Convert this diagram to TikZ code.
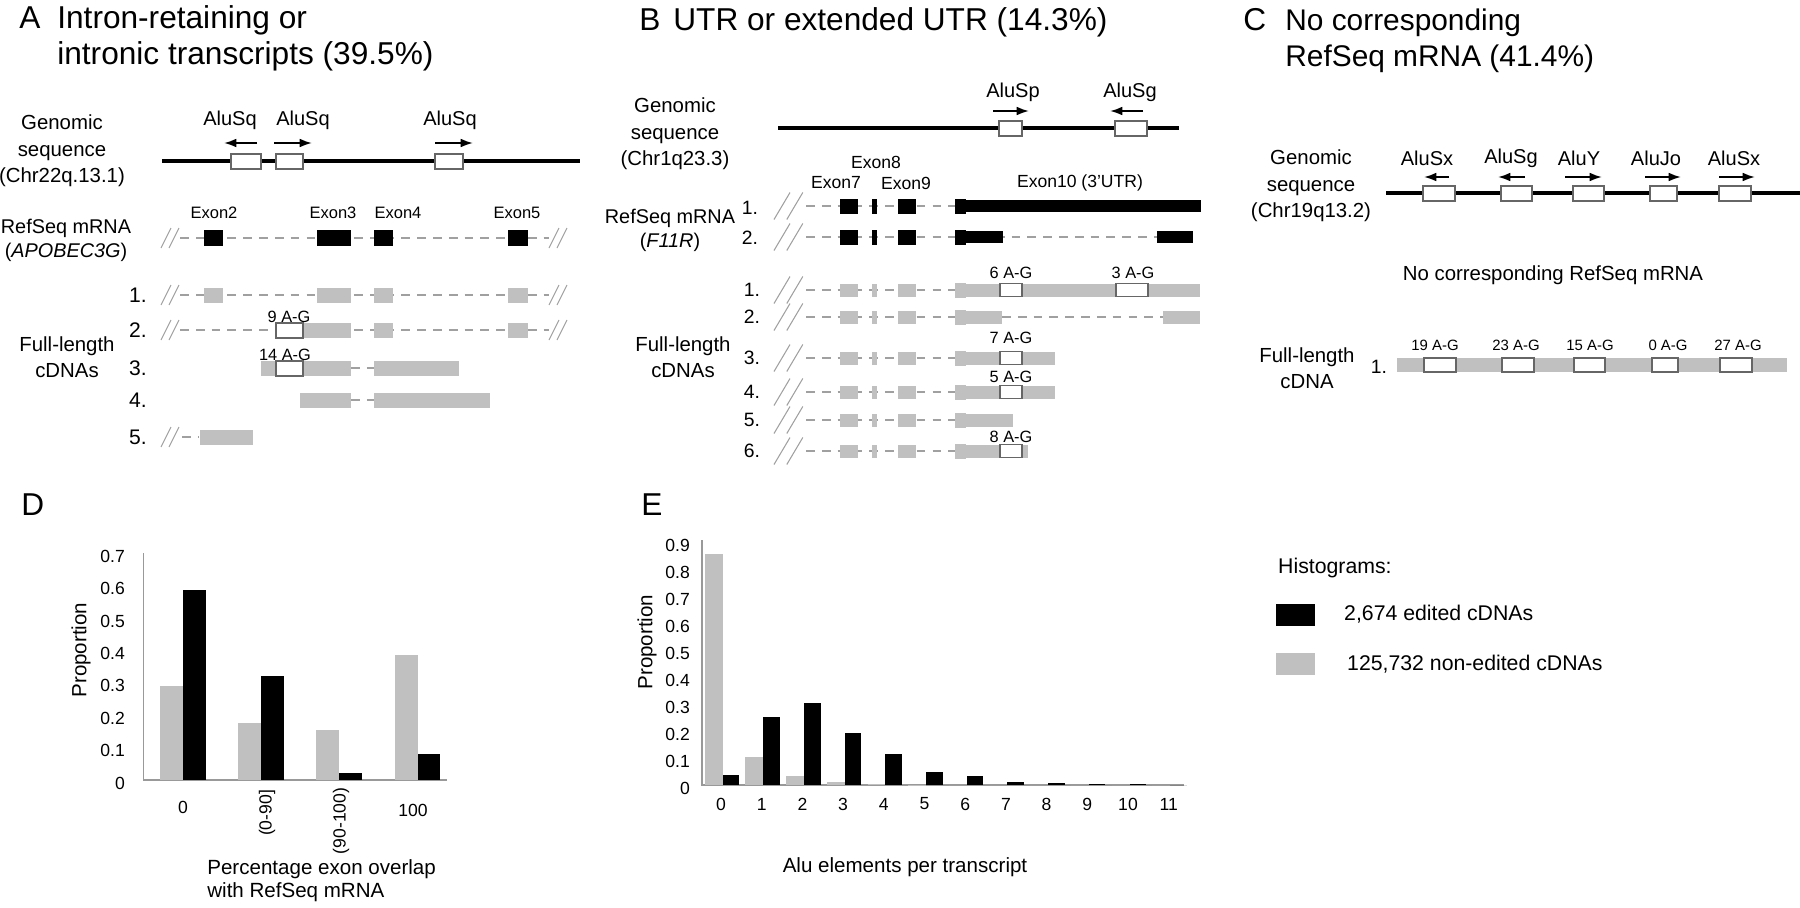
\documentclass[tikz,border=0pt]{standalone}
\usepackage{fontspec}
\setmainfont{Liberation Sans}
\usetikzlibrary{arrows.meta}
\definecolor{bargray}{RGB}{192,192,192}
\definecolor{dashgray}{RGB}{160,160,160}
% double slash: x, y, half height, dx
\newcommand{\slashmark}[4]{\draw[cut] (#1,#2+#3) -- ++(#4,-2*#3) (#1+0.8*#4,#2+#3) -- ++(#4,-2*#3);}

\begin{document}
\begin{tikzpicture}[x=0.02cm, y=-0.02cm,
  ttl/.style={font=\fontsize{18}{21}\selectfont, anchor=base west, inner sep=0pt},
  lbl/.style={font=\fontsize{11.6}{15}\selectfont, align=center},
  reflbl/.style={font=\fontsize{11.3}{13.6}\selectfont, align=center},
  alulbl/.style={font=\fontsize{11.4}{13}\selectfont},
  exlbl/.style={font=\fontsize{9.4}{10}\selectfont},
  aglbl/.style={font=\fontsize{9.3}{10}\selectfont},
  rowlbl/.style={font=\fontsize{11}{13}\selectfont},
  genome/.style={line width=1.8pt},
  alu/.style={draw=black!60, fill=white, line width=0.8pt},
  aluarr/.style={-{Latex[length=7pt,width=5pt]}, line width=1.1pt},
  intron/.style={draw=dashgray, dash pattern=on 5pt off 4pt, line width=0.8pt},
  cut/.style={draw=dashgray, line width=0.6pt},
  tick/.style={font=\fontsize{10}{11}\selectfont, anchor=east},
  cat/.style={font=\fontsize{10}{11}\selectfont},
  axt/.style={font=\fontsize{11.7}{13}\selectfont},
  leg/.style={font=\fontsize{12.1}{14}\selectfont, anchor=west},
  axis/.style={draw=black!40, line width=0.6pt}]
\useasboundingbox (0,0) rectangle (1800,907);

% ---------------- A
\node[ttl] (lA) at (19,28) {A};
\node[ttl] (tA1) at (57,28) {Intron-retaining or};
\node[ttl] (tA2) at (57,64) {intronic transcripts (39.5\%)};
\node[lbl] (gA) at (62,151) {Genomic\\sequence\\(Chr22q.13.1)};
\draw[genome] (162,161) -- (580,161);
\foreach \a/\b in {231/261,276/303,435/463} \draw[alu] (\a,154) rectangle (\b,169);
\draw[aluarr] (257,143) -- (224,143);
\draw[aluarr] (274,143) -- (312,143);
\draw[aluarr] (435,143) -- (473,143);
\foreach \x [count=\i] in {230,303,450} \node[alulbl] (aA\i) at (\x,120) {AluSq};
\foreach \x/\t in {214/Exon2,333/Exon3,398/Exon4,517/Exon5} \node[exlbl] (x\t) at (\x,213) {\t};
\node[reflbl] (rA) at (66,240) {RefSeq mRNA\\(\textit{APOBEC3G})};
\draw[intron] (180,238) -- (549,238);
\slashmark{161}{238}{10}{10}
\slashmark{549}{238}{10}{10}
\foreach \a/\b in {204/223,317/351,374/393,508/528} \fill (\a,230) rectangle (\b,246);

\node[lbl] (fA) at (67,357) {Full-length\\cDNAs};
\foreach \i/\y in {1/295,2/330,3/368,4/400,5/437} \node[font=\fontsize{12}{14}\selectfont] (nA\i) at (138,\y) {\i.};
% 1
\draw[intron] (180,295) -- (549,295);
\slashmark{161}{295}{10}{10}
\slashmark{549}{295}{10}{10}
\foreach \a/\b in {204/223,317/351,374/393,508/528} \fill[bargray] (\a,288) rectangle (\b,303);
% 2
\draw[intron] (180,330) -- (549,330);
\slashmark{161}{330}{10}{10}
\slashmark{549}{330}{10}{10}
\foreach \a/\b in {303/351,374/393,508/528} \fill[bargray] (\a,323) rectangle (\b,338);
\draw[alu] (276,323) rectangle (303,338);
\node[aglbl] (agA2) at (289,317) {9 A-G};
% 3
\draw[intron] (351,368) -- (374,368);
\foreach \a/\b in {261/351,374/459} \fill[bargray] (\a,361) rectangle (\b,376);
\draw[alu] (276,361) rectangle (303,376);
\node[aglbl] (agA3) at (285,355) {14 A-G};
% 4
\draw[intron] (351,400) -- (374,400);
\foreach \a/\b in {300/351,374/490} \fill[bargray] (\a,393) rectangle (\b,408);
% 5
\slashmark{161}{437}{10}{10}
\draw[intron] (182,437) -- (198,437);
\fill[bargray] (200,430) rectangle (253,445);

% ---------------- B
\node[ttl] (lB) at (639,30) {B};
\node[ttl] (tB) at (673,30) {UTR or extended UTR (14.3\%)};
\node[lbl] (gB) at (675,134) {Genomic\\sequence\\(Chr1q23.3)};
\draw[genome] (778,128) -- (1179,128);
\draw[alu] (999,121) rectangle (1022,136);
\draw[alu] (1115,121) rectangle (1147,136);
\draw[aluarr] (993,111) -- (1029,111);
\draw[aluarr] (1143,111) -- (1110,111);
\node[alulbl] (aB1) at (1013,92) {AluSp};
\node[alulbl] (aB2) at (1130,92) {AluSg};
\node[font=\fontsize{10}{11}\selectfont] (xE8) at (876,162) {Exon8};
\node[font=\fontsize{10}{11}\selectfont] (xE7) at (836,183) {Exon7};
\node[font=\fontsize{10}{11}\selectfont] (xE9) at (906,183) {Exon9};
\node[font=\fontsize{10}{11}\selectfont] (xE10) at (1080,183) {Exon10 (3'UTR)};
\node[reflbl] (rB) at (670,230) {RefSeq mRNA\\(\textit{F11R})};
\node[rowlbl] (nR1) at (750,208) {1.};
\node[rowlbl] (nR2) at (750,238) {2.};
\draw[intron] (806,206) -- (955,206);
\draw[intron] (806,237) -- (1157,237);
\foreach \y in {206,237} {
  \slashmark{774}{\y}{13.5}{16}
  \foreach \a/\b in {840/858,872/877,898/916,955/966} \fill (\a,\y-7.5) rectangle (\b,\y+7.5);
}
\fill (966,200) rectangle (1201,212);
\fill (966,231) rectangle (1003,243);
\fill (1157,231) rectangle (1193,243);

\node[lbl] (fB) at (683,357) {Full-length\\cDNAs};
\foreach \y/\e [count=\i] in {290/1200,317/1002,358/1055,392/1055,420/1013,451/1028} {
  \node[rowlbl] (nB\i) at (752,\y) {\i.};
  \slashmark{774}{\y}{13.5}{16}
  \draw[intron] (806,\y) -- (955,\y);
  \foreach \a/\b in {840/858,872/877,898/916} \fill[bargray] (\a,\y-6.5) rectangle (\b,\y+6.5);
  \fill[bargray] (955,\y-7.5) rectangle (966,\y+7.5);
  \fill[bargray] (966,\y-6.5) rectangle (\e,\y+6.5);
}
\draw[intron] (1002,317) -- (1163,317);
\fill[bargray] (1163,310.5) rectangle (1200,323.5);
\foreach \y in {290,358,392,451} \draw[alu] (1000,\y-6.5) rectangle (1022,\y+6.5);
\draw[alu] (1116,283.5) rectangle (1148,296.5);
\node[aglbl] (agB1) at (1011,273) {6 A-G};
\node[aglbl] (agB1b) at (1133,273) {3 A-G};
\node[aglbl] (agB3) at (1011,338) {7 A-G};
\node[aglbl] (agB4) at (1011,377) {5 A-G};
\node[aglbl] (agB6) at (1011,437) {8 A-G};

% ---------------- C
\node[ttl] (lC) at (1243,30) {C};
\node[ttl, font=\fontsize{17}{21}\selectfont] (tC1) at (1285,30) {No corresponding};
\node[ttl, font=\fontsize{17}{21}\selectfont] (tC2) at (1285,66) {RefSeq mRNA (41.4\%)};
\node[lbl] (gC) at (1311,186) {Genomic\\sequence\\(Chr19q13.2)};
\draw[genome] (1386,193) -- (1800,193);
\foreach \a/\b in {1423/1455,1501/1532,1573/1604,1650/1677,1719/1751} \draw[alu] (\a,186) rectangle (\b,201);
\draw[aluarr] (1449,177) -- (1424,177);
\draw[aluarr] (1525,177) -- (1498,177);
\draw[aluarr] (1565,177) -- (1602,177);
\draw[aluarr] (1645,177) -- (1681,177);
\draw[aluarr] (1719,177) -- (1755,177);
\foreach \x/\t [count=\i] in {1427/AluSx,1511/AluSg,1579/AluY,1656/AluJo,1734/AluSx} \node[alulbl] (aC\i) at (\x,158) {\t};
\node[lbl] (noC) at (1553,275) {No corresponding RefSeq mRNA};
\node[lbl] (fC) at (1307,368) {Full-length\\cDNA};
\node[rowlbl] (nC1) at (1379,367) {1.};
\fill[bargray] (1397,358) rectangle (1787,372);
\foreach \a/\b in {1424/1456,1502/1534,1574/1605,1652/1678,1720/1752} \draw[alu] (\a,358) rectangle (\b,372);
\foreach \x/\t [count=\i] in {1435/19,1516/23,1590/15,1668/0,1738/27} \node[font=\fontsize{8.5}{10}\selectfont] (agC\i) at (\x,345) {\t\ A-G};

% ---------------- D
\node[ttl] (lD) at (21,515) {D};
\draw[axis] (143.5,553) -- (143.5,780) -- (447,780);
\foreach \v/\t in {0/0,1/0.1,2/0.2,3/0.3,4/0.4,5/0.5,6/0.6,7/0.7} \node[tick] (tD\v) at (131,780-32.4*\v+3) {\t};
\foreach \c/\g/\b in {183/0.29/0.585,261/0.175/0.32,339/0.155/0.022,417.5/0.385/0.08} {
  \fill[bargray] (\c-22.6,780) rectangle (\c,780-324*\g);
  \fill (\c,780) rectangle (\c+22.6,780-324*\b);
}
\node[cat] (cD1) at (183,807) {0};
\node[cat, rotate=90] (cD2) at (267,813) {(0-90]};
\node[cat, rotate=90] (cD3) at (341,821) {(90-100)};
\node[cat] (cD4) at (413,810) {100};
\node[axt, rotate=90] (pD) at (81,650) {Proportion};
\node[axt, align=left, anchor=west, inner sep=0pt] (xD) at (207,881) {Percentage exon overlap\\with RefSeq mRNA};

% ---------------- E
\node[ttl] (lE) at (641,515) {E};
\draw[axis] (702,540) -- (702,785) -- (1184,785);
\foreach \v/\t in {0/0,1/0.1,2/0.2,3/0.3,4/0.4,5/0.5,6/0.6,7/0.7,8/0.8,9/0.9} \node[tick] (tE\v) at (696,785-26.9*\v+3) {\t};
\foreach \i/\g/\b in {0/0.86/0.037,1/0.105/0.253,2/0.033/0.305,3/0.012/0.193,4/0.003/0.115,5/0.001/0.048,6/0/0.033,7/0/0.013,8/0/0.007,9/0/0.004,10/0/0.003,11/0/0} {
  \fill[bargray] (722.5+40.7*\i-17.8,785) rectangle (722.5+40.7*\i,785-269*\g);
  \fill (722.5+40.7*\i,785) rectangle (722.5+40.7*\i+16.6,785-269*\b);
  \node[cat] (cE\i) at (721+40.7*\i,804) {\i};
}
\node[axt, rotate=90] (pE) at (647,642) {Proportion};
\node[axt] (xE) at (905,867) {Alu elements per transcript};

% ---------------- legend
\node[leg] (hL) at (1272,568) {Histograms:};
\fill (1276,604) rectangle (1315,626);
\node[leg] (kL1) at (1338,614) {2,674 edited cDNAs};
\fill[bargray] (1276,653) rectangle (1315,675);
\node[leg] (kL2) at (1341,664) {125,732 non-edited cDNAs};
\end{tikzpicture}
\end{document}
